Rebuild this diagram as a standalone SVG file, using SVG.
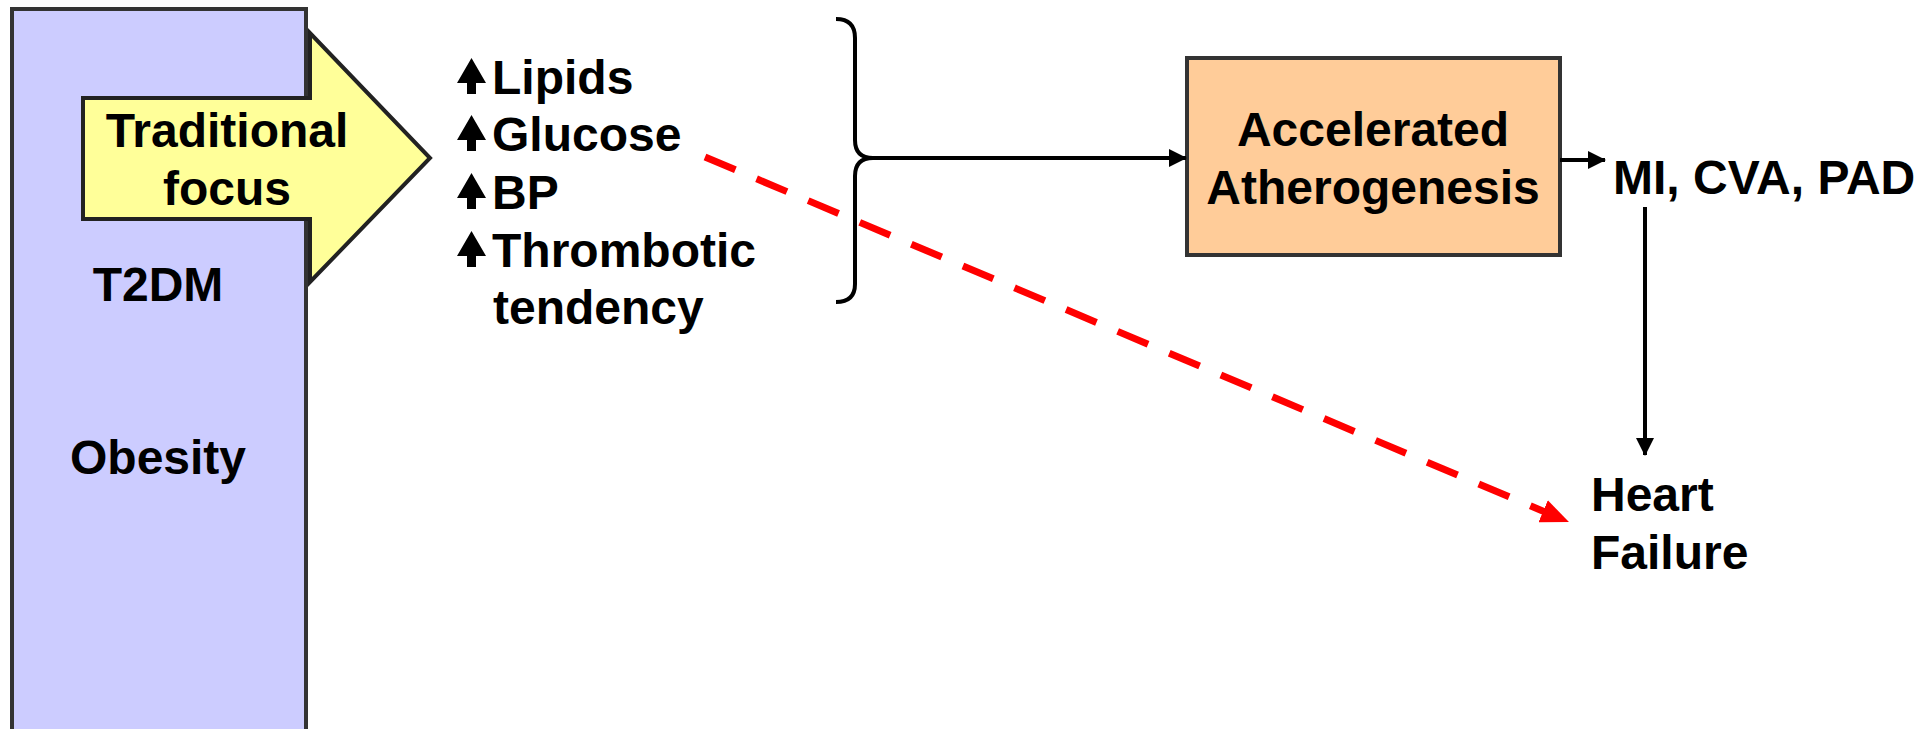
<svg xmlns="http://www.w3.org/2000/svg" width="1920" height="729" viewBox="0 0 1920 729">
<style>
text{font-family:"Liberation Sans",Arial,sans-serif;font-weight:bold;font-size:48px;fill:#000}
.c{text-anchor:middle}
.blk{stroke:#000;stroke-width:4;fill:none}
.up{fill:#000}
</style>
<defs>
<marker id="ah" markerUnits="userSpaceOnUse" markerWidth="18" markerHeight="18" refX="17" refY="9" orient="auto">
<path d="M0,0 L18,9 L0,18 Z" fill="#000"/>
</marker>
<marker id="rh" markerUnits="userSpaceOnUse" markerWidth="28" markerHeight="24" refX="2" refY="12" orient="auto">
<path d="M0,0 L28,12 L0,24 Z" fill="#FF0000"/>
</marker>
</defs>
<g id="obesity">
<rect x="12" y="9" width="294" height="740" fill="#CCCCFF" stroke="#333" stroke-width="4"/>
<text class="c" x="158" y="301">T2DM</text>
<text class="c" x="158" y="474">Obesity</text>
</g>
<g id="traditional-focus">
<path d="M83,98 L310,98 L310,33 L430,158 L310,282 L310,219 L83,219 Z" fill="#FFFF99" stroke="#222" stroke-width="4" stroke-linejoin="miter"/>
<text class="c" x="227" y="147">Traditional</text>
<text class="c" x="227" y="205">focus</text>
</g>
<g id="risk-factors">
<path class="up" d="M471.5,58 L486,83 L476,83 L476,94 L467,94 L467,83 L457,83 Z"/>
<text x="492" y="94">Lipids</text>
<path class="up" d="M471.5,115 L486,140 L476,140 L476,151 L467,151 L467,140 L457,140 Z"/>
<text x="492" y="151">Glucose</text>
<path class="up" d="M471.5,173 L486,198 L476,198 L476,209 L467,209 L467,198 L457,198 Z"/>
<text x="492" y="209">BP</text>
<path class="up" d="M471.5,231 L486,256 L476,256 L476,267 L467,267 L467,256 L457,256 Z"/>
<text x="492" y="267">Thrombotic</text>
<text x="493" y="324">tendency</text>
</g>
<g id="atherogenesis">
<rect x="1187" y="58" width="373" height="197" fill="#FFCC99" stroke="#333" stroke-width="4"/>
<text class="c" x="1373" y="146">Accelerated</text>
<text class="c" x="1373" y="204">Atherogenesis</text>
</g>
<g id="events">
<text x="1613" y="194">MI, CVA, PAD</text>
</g>
<g id="heart-failure">
<text x="1591" y="511">Heart</text>
<text x="1591" y="569">Failure</text>
</g>
<g id="connectors">
<path class="blk" stroke-width="3" d="M836,19 Q855,19 855,38 L855,140 Q855,158 873,158 Q855,158 855,176 L855,284 Q855,302 836,302"/>
<line class="blk" x1="873" y1="158" x2="1186" y2="158" marker-end="url(#ah)"/>
<line class="blk" x1="1560" y1="160" x2="1605" y2="160" marker-end="url(#ah)"/>
<line class="blk" x1="1645" y1="207" x2="1645" y2="455" marker-end="url(#ah)"/>
<line x1="705" y1="157" x2="1545" y2="512" stroke="#FF0000" stroke-width="7" stroke-dasharray="33 23" marker-end="url(#rh)"/>
</g>
</svg>
